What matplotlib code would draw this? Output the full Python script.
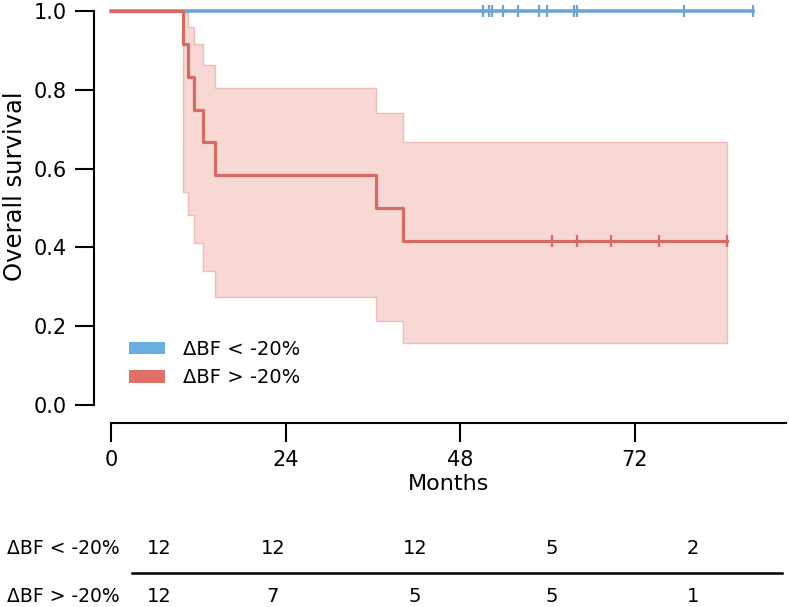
import matplotlib.pyplot as plt
from matplotlib.patches import Patch
from matplotlib.lines import Line2D

# Kaplan-Meier curves (months, survival)
blue_times = [0, 88.3]
blue_surv = [1.0, 1.0]
blue_censor = [51.1, 52.0, 52.4, 53.9, 56.0, 58.8, 60.0, 63.6, 64.0, 78.8, 88.3]

red_times = [0, 9.9, 10.6, 11.4, 12.6, 14.3, 36.4, 40.2, 84.7]
red_surv = [1.0, 0.917, 0.833, 0.75, 0.667, 0.583, 0.5, 0.417, 0.417]
red_upper = [1.0, 0.995, 0.96, 0.916, 0.863, 0.804, 0.74, 0.668, 0.668]
red_lower = [1.0, 0.541, 0.482, 0.412, 0.340, 0.275, 0.213, 0.157, 0.157]
red_censor = [60.6, 64.0, 68.8, 75.3, 84.7]

group_labels = ['ΔBF < -20%', 'ΔBF > -20%']
at_risk_blue = [12, 12, 12, 5, 2]
at_risk_red = [12, 7, 5, 5, 1]

x_ticks = [0, 24, 48, 72]
y_ticks = [0.0, 0.2, 0.4, 0.6, 0.8, 1.0]

blue = '#6fa3d2'
red = '#d56b63'

W, H = 789, 607
fig = plt.figure(figsize=(W / 100, H / 100), dpi=100)
ax = fig.add_axes([111 / W, 1 - 405 / H, 675 / W, 394 / H])

# confidence band for the red group
ax.fill_between(red_times, red_lower, red_upper, step='post',
                facecolor='#f7d8d5', edgecolor='#efbdb8', lw=1, zorder=1)

ax.step(blue_times, blue_surv, where='post', color=blue, lw=2.6, clip_on=False, zorder=3)
ax.plot(blue_censor, [1.0] * len(blue_censor), ls='none', marker='|', ms=9,
        mew=1.6, color=blue, clip_on=False, zorder=3)

ax.step(red_times, red_surv, where='post', color=red, lw=2.3, clip_on=False, zorder=4)
ax.plot(red_censor, [red_surv[-1]] * len(red_censor), ls='none', marker='|', ms=9,
        mew=1.6, color=red, zorder=4)

ax.set_xlim(0, 92.8)
ax.set_ylim(0, 1)
ax.set_xticks(x_ticks)
ax.set_yticks(y_ticks)
ax.set_yticklabels([f'{v:.1f}' for v in y_ticks])

for s in ['top', 'right']:
    ax.spines[s].set_visible(False)
ax.spines['left'].set_position(('outward', 12.5))
ax.spines['bottom'].set_position(('outward', 13))
for s in ['left', 'bottom']:
    ax.spines[s].set_linewidth(1.5)
ax.tick_params(axis='both', length=13.7, width=1.5, labelsize=15, pad=5.5)

ax.set_xlabel('Months', fontsize=16, labelpad=3)
ax.set_ylabel('Overall survival', fontsize=17.5)
ax.yaxis.set_label_coords(-0.125, 0.555)

handles = [Patch(facecolor='#6aaee0', edgecolor='none'),
           Patch(facecolor='#e07068', edgecolor='none')]
ax.legend(handles, group_labels, loc='upper left', bbox_to_anchor=(0.0, 0.21),
          frameon=False, fontsize=14, handlelength=1.9, handleheight=0.6,
          handletextpad=0.9, labelspacing=0.5)

# number at risk table
col_x = [159, 273, 415, 552, 693]
row_y = [548, 597]
for label, counts, y in zip(group_labels, [at_risk_blue, at_risk_red], row_y):
    fig.text(7 / W, 1 - y / H, label, fontsize=13.5, ha='left', va='center')
    for x, n in zip(col_x, counts):
        fig.text(x / W, 1 - y / H, str(n), fontsize=14, ha='center', va='center')
fig.add_artist(Line2D([132 / W, 782 / W], [1 - 573 / H, 1 - 573 / H],
                      transform=fig.transFigure, color='black', lw=1.8))

fig.savefig('out.png', dpi=100)
